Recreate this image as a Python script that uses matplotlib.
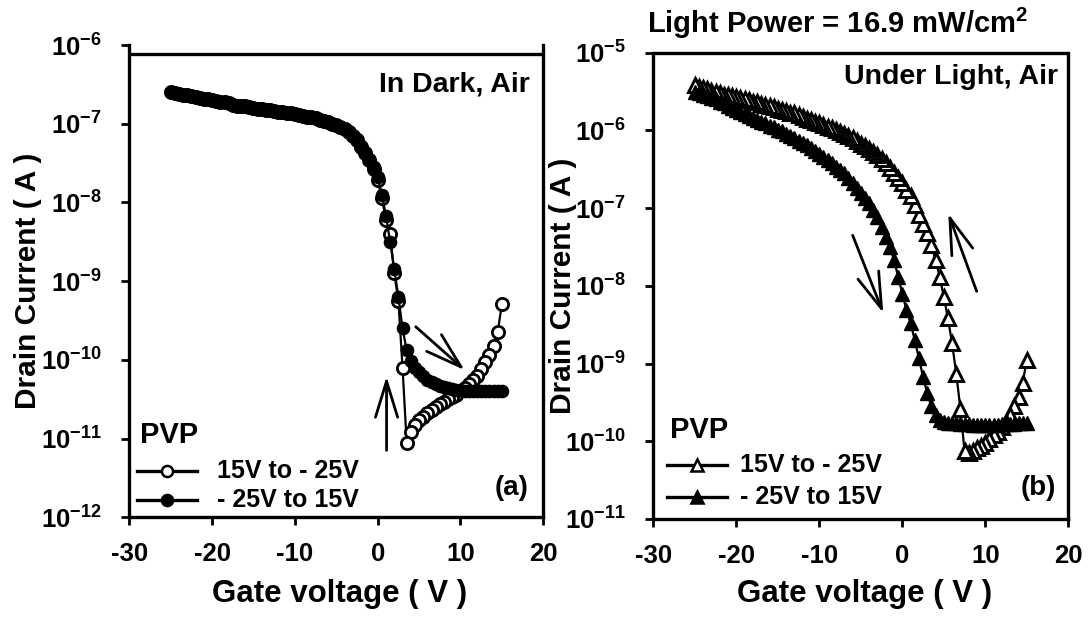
import numpy as np
import matplotlib
matplotlib.use("Agg")
import matplotlib.pyplot as plt
from matplotlib.lines import Line2D
from matplotlib.ticker import FixedLocator, FuncFormatter, NullLocator

plt.rcParams['font.family'] = ['Liberation Sans', 'DejaVu Sans']
plt.rcParams['font.weight'] = 'bold'
plt.rcParams['mathtext.fontset'] = 'custom'
plt.rcParams['mathtext.rm'] = 'Liberation Sans:bold'
plt.rcParams['mathtext.bf'] = 'Liberation Sans:bold'
plt.rcParams['axes.unicode_minus'] = False

# ---------------- data (gate sweep in 0.5 V steps) ----------------
# forward sweep  -25 V -> 15 V
vg_up = np.arange(-25.0, 15.01, 0.5)
# reverse sweep   15 V -> -25 V
vg_down = vg_up[::-1]

# (a) In dark : log10 of drain current (A)
dark_up_log = [
    -6.60, -6.61, -6.62, -6.63, -6.64, -6.65, -6.66, -6.67, -6.68, -6.69,
    -6.70, -6.71, -6.72, -6.73, -6.74, -6.76, -6.77, -6.77, -6.78, -6.79,
    -6.80, -6.81, -6.81, -6.82, -6.83, -6.84, -6.85, -6.85, -6.86, -6.87,
    -6.88, -6.89, -6.90, -6.91, -6.92, -6.93, -6.95, -6.96, -6.98, -7.00,
    -7.02, -7.04, -7.07, -7.11, -7.15, -7.20, -7.28, -7.36, -7.45, -7.55,
    -7.68, -7.90, -8.17, -8.50, -8.85, -9.20, -9.60, -9.88, -10.02, -10.10,
    -10.16, -10.21, -10.25, -10.28, -10.31, -10.33, -10.35, -10.36, -10.37, -10.38,
    -10.38, -10.39, -10.39, -10.39, -10.40, -10.40, -10.40, -10.40, -10.40, -10.39,
    -10.39]
dark_down_log = [
    -9.29, -9.64, -9.82, -9.94, -10.03, -10.12, -10.20, -10.26, -10.31, -10.36,
    -10.40, -10.44, -10.47, -10.50, -10.53, -10.56, -10.60, -10.64, -10.67, -10.72,
    -10.77, -10.83, -10.92, -11.05, -10.10, -9.25, -8.90, -8.40, -8.22, -7.95,
    -7.72, -7.57, -7.46, -7.37, -7.29, -7.21, -7.15, -7.11, -7.07, -7.04,
    -7.02, -7.00, -6.98, -6.96, -6.95, -6.93, -6.92, -6.91, -6.90, -6.89,
    -6.88, -6.87, -6.86, -6.85, -6.85, -6.84, -6.83, -6.82, -6.81, -6.81,
    -6.80, -6.79, -6.78, -6.77, -6.77, -6.76, -6.74, -6.73, -6.72, -6.71,
    -6.70, -6.69, -6.68, -6.67, -6.66, -6.65, -6.64, -6.63, -6.62, -6.61,
    -6.60]

# (b) Under light : log10 of drain current (A)
light_up_log = [
    -5.50, -5.52, -5.54, -5.56, -5.58, -5.60, -5.63, -5.65, -5.68, -5.71,
    -5.74, -5.76, -5.79, -5.81, -5.84, -5.86, -5.89, -5.91, -5.94, -5.96,
    -5.99, -6.01, -6.04, -6.07, -6.10, -6.13, -6.16, -6.19, -6.23, -6.26,
    -6.30, -6.34, -6.38, -6.42, -6.47, -6.51, -6.55, -6.61, -6.68, -6.74,
    -6.81, -6.87, -6.94, -7.02, -7.11, -7.24, -7.37, -7.50, -7.67, -7.88,
    -8.10, -8.31, -8.48, -8.70, -8.93, -9.17, -9.38, -9.55, -9.66, -9.73,
    -9.75, -9.76, -9.77, -9.77, -9.78, -9.78, -9.78, -9.79, -9.79, -9.79,
    -9.79, -9.79, -9.79, -9.79, -9.78, -9.78, -9.78, -9.78, -9.77, -9.77,
    -9.77]
light_down_log = [
    -8.95, -9.25, -9.43, -9.55, -9.66, -9.75, -9.81, -9.88, -9.92, -9.97,
    -10.02, -10.06, -10.09, -10.12, -10.15, -10.13, -9.58, -9.13, -8.74, -8.42,
    -8.14, -7.88, -7.67, -7.47, -7.32, -7.20, -7.09, -6.96, -6.85, -6.77,
    -6.68, -6.61, -6.55, -6.48, -6.42, -6.37, -6.32, -6.28, -6.24, -6.20,
    -6.17, -6.14, -6.10, -6.07, -6.04, -6.02, -6.00, -5.97, -5.95, -5.93,
    -5.91, -5.89, -5.87, -5.85, -5.83, -5.80, -5.78, -5.77, -5.75, -5.74,
    -5.72, -5.70, -5.69, -5.67, -5.66, -5.64, -5.63, -5.61, -5.60, -5.58,
    -5.57, -5.56, -5.55, -5.54, -5.52, -5.51, -5.49, -5.47, -5.45, -5.44,
    -5.42]

x_ticks = [-30, -20, -10, 0, 10, 20]
dark_decades = [-12, -11, -10, -9, -8, -7, -6]
light_decades = [-11, -10, -9, -8, -7, -6, -5]
legend_labels = ['15V to - 25V', '- 25V to 15V']

# ---------------- figure ----------------
W, H = 1089, 624
fig = plt.figure(figsize=(W / 100, H / 100), dpi=100)


def fx(x):
    return x / W


def fy(y):
    return 1 - y / H


ax1 = fig.add_axes([fx(129.3), fy(517.3), (543.3 - 129.3) / W, (517.3 - 45) / H])
ax2 = fig.add_axes([fx(653.3), fy(519.0), (1068.3 - 653.3) / W, (519.0 - 52.7) / H])

SPW = 2.4
LW = 1.6
TICK_FS = 18.5


def style_axes(ax, decades, top_frame_log):
    ax.set_yscale('log')
    ax.set_xlim(-30, 20)
    ax.set_ylim(10.0 ** decades[0], 10.0 ** decades[-1])
    ax.xaxis.set_major_locator(FixedLocator(x_ticks))
    ax.yaxis.set_major_locator(FixedLocator([10.0 ** d for d in decades]))
    ax.yaxis.set_minor_locator(NullLocator())
    ax.xaxis.set_minor_locator(NullLocator())
    ax.yaxis.set_major_formatter(FuncFormatter(
        lambda v, p: r'$\mathbf{10^{%d}}$' % int(round(np.log10(v)))))
    ax.xaxis.set_major_formatter(FuncFormatter(lambda v, p: '%d' % v))
    for s in ['left', 'right', 'bottom']:
        ax.spines[s].set_linewidth(SPW)
    ax.spines['top'].set_visible(False)
    ax.axhline(10.0 ** top_frame_log, color='black', lw=SPW, clip_on=False,
               solid_capstyle='butt')
    ax.tick_params(axis='both', which='major', direction='out', length=6,
                   width=2, labelsize=TICK_FS, top=False, right=False)
    ax.tick_params(axis='x', pad=12)
    ax.tick_params(axis='y', pad=14)
    for lab in ax.get_xticklabels() + ax.get_yticklabels():
        lab.set_fontweight('bold')


style_axes(ax1, dark_decades, -6.114)
style_axes(ax2, light_decades, -5.0)

# --- panel (a)
ax1.plot(vg_down, np.power(10.0, dark_down_log), '-', color='black', lw=LW,
         marker='o', ms=8.8, mfc='white', mec='black', mew=2.0, zorder=3)
ax1.plot(vg_up, np.power(10.0, dark_up_log), '-', color='black', lw=LW,
         marker='o', ms=8.8, mfc='black', mec='black', mew=1.0, zorder=4)

# --- panel (b)
ax2.plot(vg_down, np.power(10.0, light_down_log), '-', color='black', lw=LW,
         marker='^', ms=10, mfc='white', mec='black', mew=2.1, zorder=3)
ax2.plot(vg_up, np.power(10.0, light_up_log), '-', color='black', lw=LW,
         marker='^', ms=10, mfc='black', mec='black', mew=1.0, zorder=4)

# --- arrows
arrow_style = '->,head_length=1.3,head_width=0.4'
akw = dict(arrowstyle=arrow_style, color='black', lw=2.0, mutation_scale=20,
           shrinkA=0, shrinkB=0)
ax1.annotate('', xy=(10.5, 10 ** -10.13), xytext=(4.6, 10 ** -9.58), arrowprops=akw)
ax1.annotate('', xy=(1.07, 10 ** -10.21), xytext=(1.07, 10 ** -11.15), arrowprops=akw)
ax2.annotate('', xy=(-2.29, 10 ** -8.35), xytext=(-5.98, 10 ** -7.35), arrowprops=akw)
ax2.annotate('', xy=(5.54, 10 ** -7.07), xytext=(8.96, 10 ** -8.07), arrowprops=akw)

# --- texts
fig.text(fx(530), fy(85), 'In Dark, Air', ha='right', va='center',
         fontsize=20.5, fontweight='bold')
fig.text(fx(1058), fy(77), 'Under Light, Air', ha='right', va='center',
         fontsize=20.5, fontweight='bold')
fig.text(fx(529), fy(488), '(a)', ha='right', va='center', fontsize=20, fontweight='bold')
fig.text(fx(1056), fy(488), '(b)', ha='right', va='center', fontsize=20, fontweight='bold')
fig.text(fx(837), fy(33), r'Light Power = 16.9 mW/cm$^{\mathbf{2}}$', ha='center',
         va='baseline', fontsize=21, fontweight='bold')

for xc in (340, 865):
    fig.text(fx(xc), fy(602), 'Gate voltage ( V )', ha='center', va='baseline',
             fontsize=22.5, fontweight='bold')
fig.text(fx(28), fy(281), 'Drain Current ( A )', ha='center', va='center',
         rotation=90, fontsize=21.5, fontweight='bold')
fig.text(fx(563), fy(286), 'Drain Current ( A )', ha='center', va='center',
         rotation=90, fontsize=21.5, fontweight='bold')


# --- hand-placed legends
def legend(x0, x1, xt, ypvp, rows, marker, ms):
    fig.text(fx(x0 + 3), fy(ypvp), 'PVP', ha='left', va='center', fontsize=21,
             fontweight='bold')
    for (yy, face), lab in zip(rows, legend_labels):
        xc = (x0 + x1) / 2
        fig.add_artist(Line2D([fx(x0), fx(xc), fx(x1)], [fy(yy)] * 3,
                              transform=fig.transFigure, color='black', lw=2.4,
                              marker=marker, markevery=[1], ms=ms, mfc=face,
                              mec='black', mew=1.8))
        fig.text(fx(xt), fy(yy), lab, ha='left', va='center', fontsize=18,
                 fontweight='bold')


legend(137, 197, 217, 435, [(471, 'white'), (500, 'black')], 'o', 8)
legend(667, 727, 740, 430, [(465, 'white'), (497, 'black')], '^', 9)

fig.savefig('out.png', dpi=100)
